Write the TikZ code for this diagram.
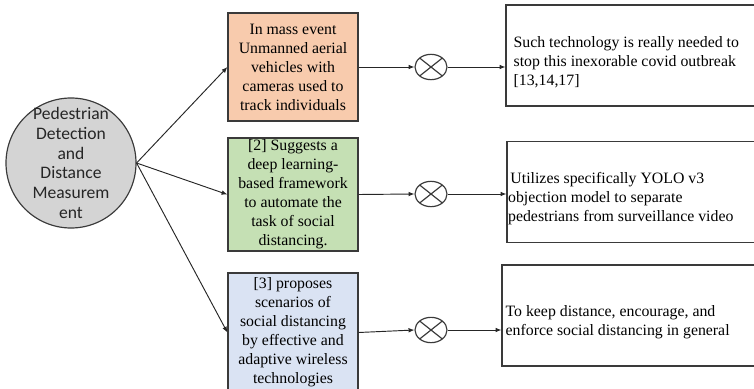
\documentclass[tikz,border=0pt]{standalone}
\usepackage{fontspec}
\setmainfont{Liberation Serif}
\newfontfamily\hubfont{Carlito}
\usetikzlibrary{calc,arrows.meta,shapes.geometric}

\definecolor{edgegray}{HTML}{3A3A3A}
\definecolor{peach}{HTML}{F8CBAD}
\definecolor{leaf}{HTML}{C5E0B4}
\definecolor{sky}{HTML}{DAE3F3}
\definecolor{hubgray}{HTML}{D4D4D4}

\begin{document}
\begin{tikzpicture}[>={Latex[length=5pt,width=4pt]},x=0.03cm,y=-0.03cm,
  hub/.style={circle,draw=edgegray,fill=hubgray,line width=1pt,minimum size=3.9cm,inner sep=0pt},
  hubtext/.style={font=\hubfont\fontsize{15}{17}\selectfont,align=center,text=black!85,inner sep=0pt},
  srcbox/.style={draw=edgegray,line width=1pt,minimum width=3.9cm,align=center,inner sep=0pt,
    font=\fontsize{13.5}{16.2}\selectfont},
  outbox/.style={draw=edgegray,line width=1pt,minimum width=9cm,minimum height=3.03cm,inner sep=0pt},
  outtext/.style={anchor=west,align=left,inner sep=0pt,font=\fontsize{13.5}{16.2}\selectfont},
  mixer/.style={ellipse,draw=edgegray,line width=1pt,minimum width=0.96cm,minimum height=0.76cm,inner sep=0pt,
    path picture={\draw[edgegray,line width=1pt]
      (path picture bounding box.north west)--(path picture bounding box.south east)
      (path picture bounding box.north east)--(path picture bounding box.south west);}},
  link/.style={->,line width=0.8pt,black!85}]
  \useasboundingbox (0,0) rectangle (754,388);
  % Central topic
  \node[hub,label={[hubtext]center:Pedestrian\\Detection\\and\\Distance\\Measurem\\ent}] (hub) at (71,163) {};
  % Three approaches
  \node[srcbox,fill=peach,minimum height=3.24cm] (box1) at (293,67)
    {In mass event\\Unmanned aerial\\vehicles with\\cameras used to\\track individuals};
  \node[srcbox,fill=leaf,minimum height=3.39cm] (box2) at (293,194.5)
    {[2] Suggests a\\deep learning-\\based framework\\to automate the\\task of social\\distancing.};
  \node[srcbox,fill=sky,minimum height=3.57cm] (box3) at (293,332.5)
    {[3] proposes\\scenarios of\\social distancing\\by effective and\\adaptive wireless\\technologies};
  % Mixing points
  \node[mixer] (x1) at (431,67) {};
  \node[mixer] (x2) at (431,194) {};
  \node[mixer] (x3) at (431,330) {};
  % Outcomes (they run past the right edge)
  \node[outbox] (out1) at (656,55.5) {};
  \node[outbox] (out2) at (657,192) {};
  \node[outbox] (out3) at (652,315.5) {};
  \node[outtext] (txt1) at ($(out1.west)+(8,6.5)$)
    {Such technology is really needed to\\stop this inexorable covid outbreak\\{[13,14,17]}};
  \node[outtext] (txt2) at ($(out2.west)+(1.5,6.5)$)
    {\hspace*{2pt}Utilizes specifically YOLO v3\\objection model to separate\\pedestrians from surveillance video};
  \node[outtext] (txt3) at ($(out3.west)+(4,6.5)$)
    {To keep distance, encourage, and\\enforce social distancing in general};
  % Connectors
  \foreach \i in {1,2,3}{
    \draw[link] (hub.east) -- (box\i.west);
    \draw[link] (box\i.east) -- (x\i.west);
    \draw[link] (x\i.east) -- (x\i -| out\i.west);
  }
\end{tikzpicture}
\end{document}
